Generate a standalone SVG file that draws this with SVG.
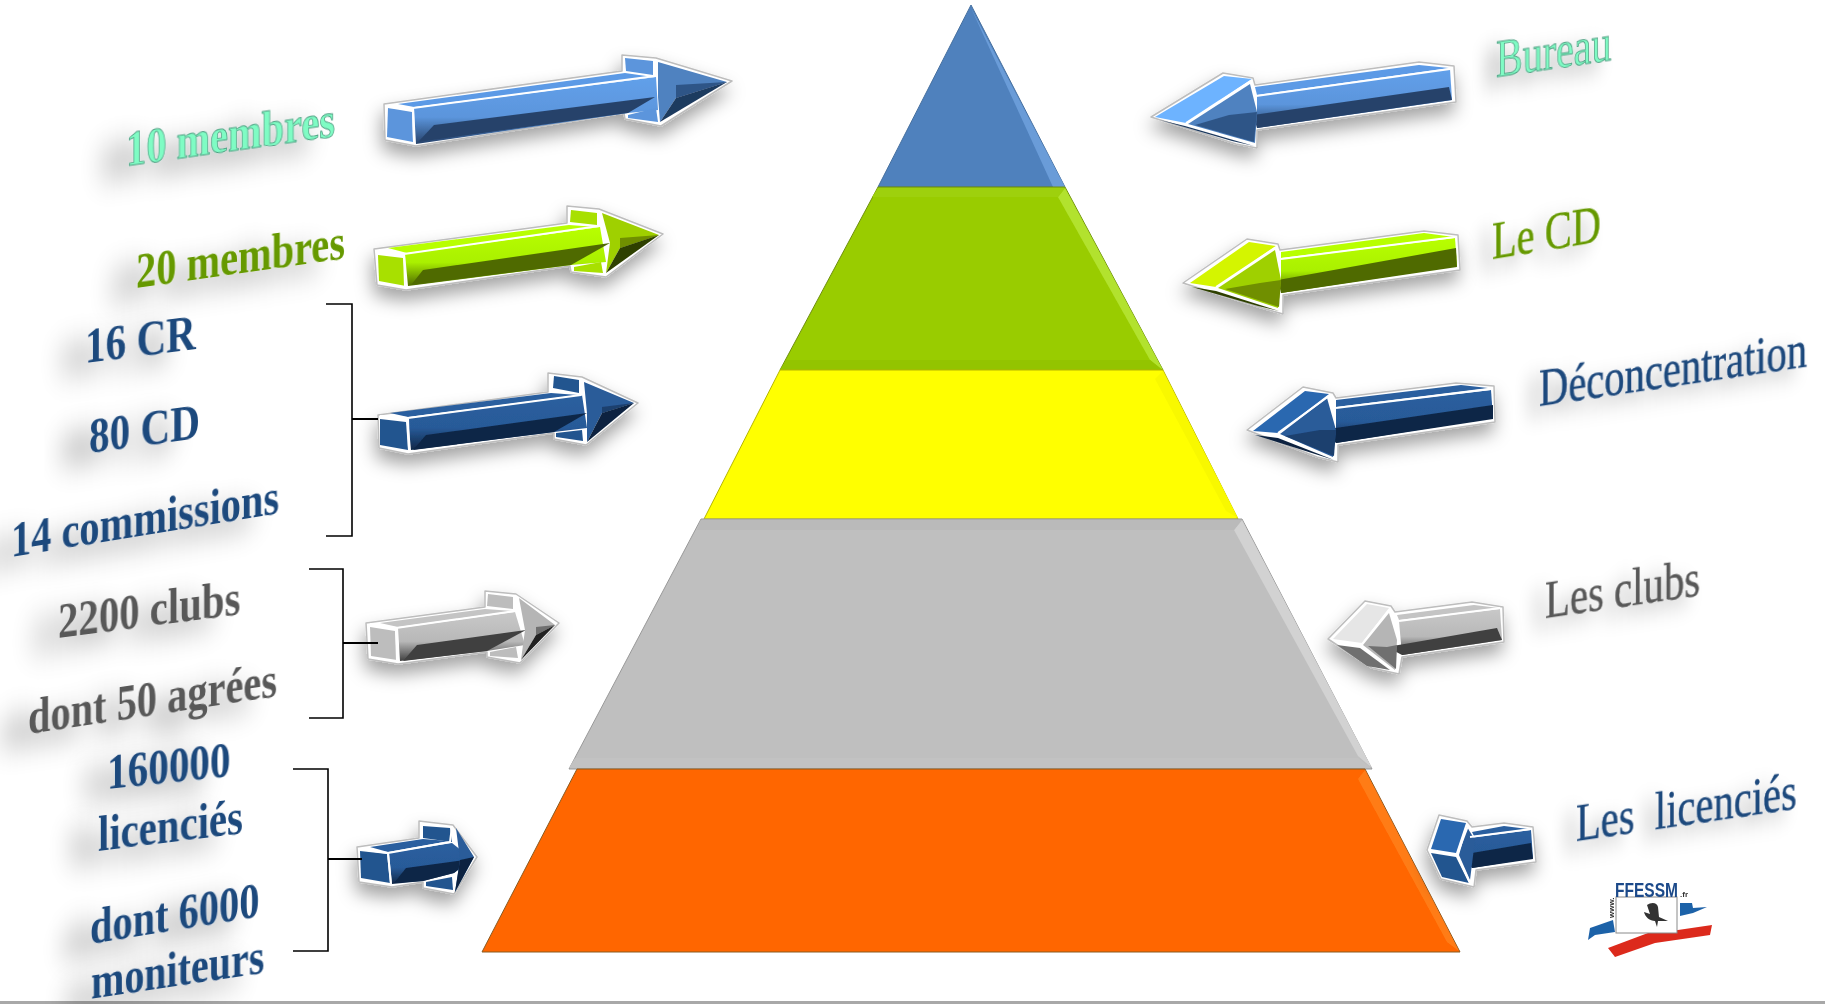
<svg xmlns="http://www.w3.org/2000/svg" width="1825" height="1004" viewBox="0 0 1825 1004">
<style>
.o{fill:#fff;stroke:#bdbdbd;stroke-width:1.5;stroke-linejoin:round}
.blue{--c:#5b95dc;--d:#27436b;--h:#4f82c0;--m:#2f5587;--k:#1f3a5f;--u:#6db3ff;--t:#5b9ae6}
.navy{--c:#23558f;--d:#0f2747;--h:#2a5b99;--m:#1c3f6e;--k:#0c2340;--u:#2a67b0;--t:#2a5f9f}
.green{--c:#a8e000;--d:#4f6b00;--h:#9fd000;--m:#6f8f00;--k:#2f4000;--u:#d4f500;--t:#b8ff00}
.gray{--c:#bdbdbd;--d:#404040;--h:#b5b5b5;--m:#707070;--k:#202020;--u:#e6e6e6;--t:#c4c4c4}
.blue .shaft{fill:url(#gBlue)}.navy .shaft{fill:url(#gNavy)}.green .shaft{fill:url(#gGreen)}.gray .shaft{fill:url(#gGray)}
.cap,.barb{fill:var(--c)}.top{fill:var(--t)}.low{fill:var(--d)}.head{fill:var(--h)}.mid{fill:var(--m)}.dark{fill:var(--k)}.up{fill:var(--u)}
.w{fill:none;stroke:#fff;stroke-width:2;stroke-linejoin:round}
.tl,.tr{font-family:"Liberation Serif","Times New Roman",serif;font-size:40px;white-space:pre}
.tl{font-weight:bold;filter:url(#sl)}
.tr{filter:url(#sr);stroke-width:.35}
.aqua{fill:#7ffcc4;stroke:#4f9c80;stroke-width:.7}
.lime{fill:#669900}
.tr.lime{stroke:#669900}
.ink{fill:#1f497d}
.tr.ink{stroke:#1f497d}
.slate{fill:#595959}
.tr.slate{stroke:#595959}
.br{fill:none;stroke:#000;stroke-width:1.6}
.tick{fill:none;stroke:#000;stroke-width:2}
.ar{filter:url(#sa)}
</style>
<defs>
<linearGradient id="gBlue" x1="0" y1="0" x2="0" y2="1"><stop offset="0" stop-color="#62a0ea"/><stop offset=".6" stop-color="#5b95dc"/><stop offset="1" stop-color="#27436b"/></linearGradient>
<linearGradient id="gNavy" x1="0" y1="0" x2="0" y2="1"><stop offset="0" stop-color="#2a5f9f"/><stop offset=".6" stop-color="#285a98"/><stop offset="1" stop-color="#0f2747"/></linearGradient>
<linearGradient id="gGreen" x1="0" y1="0" x2="0" y2="1"><stop offset="0" stop-color="#b8ff00"/><stop offset=".6" stop-color="#aaf000"/><stop offset="1" stop-color="#4f6b00"/></linearGradient>
<linearGradient id="gGray" x1="0" y1="0" x2="0" y2="1"><stop offset="0" stop-color="#c8c8c8"/><stop offset=".6" stop-color="#b8b8b8"/><stop offset="1" stop-color="#404040"/></linearGradient>
<filter id="soft" x="0" y="0" width="100%" height="100%" filterUnits="userSpaceOnUse"><feGaussianBlur stdDeviation=".55"/></filter>
<filter id="sa" x="-20%" y="-40%" width="140%" height="200%"><feDropShadow dx="-2" dy="10" stdDeviation="9" flood-color="#000" flood-opacity=".36"/></filter>
<filter id="sl" x="-40%" y="-140%" width="170%" height="380%"><feGaussianBlur in="SourceAlpha" stdDeviation="12"/><feOffset dx="-26" dy="8"/><feComponentTransfer><feFuncA type="linear" slope=".42"/></feComponentTransfer><feMerge><feMergeNode/><feMergeNode in="SourceGraphic"/></feMerge></filter>
<filter id="sr" x="-30%" y="-140%" width="150%" height="380%"><feGaussianBlur in="SourceAlpha" stdDeviation="8"/><feOffset dx="-12" dy="6"/><feComponentTransfer><feFuncA type="linear" slope=".34"/></feComponentTransfer><feMerge><feMergeNode/><feMergeNode in="SourceGraphic"/></feMerge></filter>
</defs>
<rect width="1825" height="1004" fill="#fff"/>
<g filter="url(#soft)">
<rect y="1001" width="1825" height="3" fill="#a8a8a8"/>

<g id="pyramid">
<g id="level-bureau">
<polygon points="971,5 1065,187 878,187" fill="#4f81bd" stroke="#47709f"/>
<polygon points="971,8 1065,187 1053,187" fill="#6a9cd8"/>
</g>
<g id="level-cd">
<polygon points="878,187 1065,187 1163,370 780,370" fill="#99cc00" stroke="#6f8f10"/>
<polygon points="1065,188 1163,370 1150,360 1058,197" fill="#b2e22e"/>
<polygon points="878,188 1065,188 1058,197 872,197" fill="#9ed008"/>
<polygon points="786,360 1150,360 1162,370 780,370" fill="#93c400"/>
</g>
<g id="level-yellow">
<polygon points="780,370 1163,370 1238,519 704,519" fill="#ff0" stroke="#b5b500"/>
<polygon points="1163,371 1238,518 1226,511 1155,379" fill="#f8f800"/>
</g>
<g id="level-clubs">
<polygon points="701,519 1242,519 1372,769 569,769" fill="#bfbfbf" stroke="#999"/>
<polygon points="1242,520 1372,768 1358,756 1234,530" fill="#d2d2d2"/>
<polygon points="701,520 1242,520 1234,530 697,530" fill="#bababa"/>
<polygon points="575,758 1358,758 1371,768 569,768" fill="#c2c2c2"/>
</g>
<g id="level-licencies">
<polygon points="577,769 1365,769 1460,952 482,952" fill="#f60" stroke="#8a5a20"/>
<polygon points="1365,770 1459,951 1447,942 1358,779" fill="#ff7c18"/>
</g>
</g>

<g id="arrow-10-membres" class="ar blue">
<polygon class="o" points="384,104 622,71 622,55 656,58 732,81 661,126 625,119 624,113 416,146 385,140"/>
<polygon class="cap" points="388,108 412,112 413,142 387,137"/>
<polygon class="top" points="398,104 625,73 653,77 414,107"/>
<polygon class="shaft" points="414,108 656,77 658,110 628,113 416,144"/>
<polygon class="low" points="434,125 655,97 628,113 418,142"/>
<polygon class="barb" points="625,58 653,61 653,75 626,71"/>
<polygon class="barb" points="628,115 656,108 658,122 628,118"/>
<polygon class="head" points="658,62 727,82 676,98 660,122 658,97"/>
<polygon class="mid" points="727,82 676,85 676,98"/>
<polygon class="dark" points="727,82 676,98 660,122"/>
<polyline class="w" points="414,142 413,108 655,76 655,59"/>
<polyline class="w" points="387,107 413,108"/>
</g>
<g id="arrow-20-membres" class="ar green">
<polygon class="o" points="374,249 567,223 567,206 599,209 663,234 606,277 571,272 570,266 406,290 377,285"/>
<polygon class="cap" points="378,255 403,258 406,286 379,281"/>
<polygon class="top" points="388,248 569,225 597,227 407,253"/>
<polygon class="shaft" points="405,254 600,227 606,262 571,265 408,286"/>
<polygon class="low" points="423,270 610,243 571,265 411,285"/>
<polygon class="barb" points="571,210 597,213 597,225 570,222"/>
<polygon class="barb" points="574,267 601,262 603,273 574,271"/>
<polygon class="head" points="602,213 659,235 620,248 606,273 610,243"/>
<polygon class="mid" points="659,235 620,238 620,248"/>
<polygon class="dark" points="659,235 620,248 606,273"/>
<polyline class="w" points="405,286 404,254 599,226 599,210"/>
<polyline class="w" points="378,253 404,254"/>
</g>
<g id="arrow-16-cr" class="ar navy">
<polygon class="o" points="378,415 548,392 548,373 582,377 638,403 586,445 554,439 554,433 408,454 379,448"/>
<polygon class="cap" points="380,419 406,422 408,450 380,445"/>
<polygon class="top" points="390,413 551,393 578,395 408,417"/>
<polygon class="shaft" points="408,418 582,395 587,428 554,432 411,450"/>
<polygon class="low" points="426,435 587,413 554,432 413,450"/>
<polygon class="barb" points="554,376 579,380 579,393 553,388"/>
<polygon class="barb" points="556,433 582,430 583,441 556,437"/>
<polygon class="head" points="584,382 634,403 602,413 587,442 587,413"/>
<polygon class="mid" points="634,403 602,407 602,413"/>
<polygon class="dark" points="634,403 602,413 587,442"/>
<polyline class="w" points="409,450 408,418 581,395 581,378"/>
<polyline class="w" points="380,416 408,418"/>
</g>
<g id="arrow-2200-clubs" class="ar gray">
<polygon class="o" points="366,623 485,607 485,591 516,594 559,623 520,663 487,657 487,652 398,664 368,659"/>
<polygon class="cap" points="370,627 395,631 397,660 371,656"/>
<polygon class="top" points="380,623 485,609 513,611 398,627"/>
<polygon class="shaft" points="398,628 515,612 525,645 487,651 400,661"/>
<polygon class="low" points="417,645 526,630 487,651 403,661"/>
<polygon class="barb" points="488,594 513,597 513,609 487,606"/>
<polygon class="barb" points="490,652 516,647 518,658 490,656"/>
<polygon class="head" points="519,598 555,625 536,635 521,660 525,630"/>
<polygon class="mid" points="555,625 536,627 536,635"/>
<polygon class="dark" points="555,625 536,635 521,660"/>
<polyline class="w" points="397,661 396,628 515,611 515,595"/>
<polyline class="w" points="370,624 396,628"/>
</g>
<g id="arrow-160000" class="ar navy">
<polygon class="o" points="357,847 419,838 419,821 453,825 477,857 454,894 423,888 423,882 392,887 359,882"/>
<polygon class="cap" points="360,851 387,854 390,883 361,878"/>
<polygon class="top" points="370,847 423,839 449,841 388,852"/>
<polygon class="shaft" points="389,853 452,843 472,859 454,873 423,881 392,884"/>
<polygon class="low" points="406,868 472,859 454,873 423,881 394,883"/>
<polygon class="barb" points="423,826 450,828 452,842 423,838"/>
<polygon class="barb" points="426,882 452,877 453,890 426,886"/>
<polygon class="head" points="456,828 474,857 455,892 460,860"/>
<polygon class="dark" points="474,857 460,860 455,892"/>
<polyline class="w" points="391,885 388,853 450,842 452,826"/>
<polyline class="w" points="360,849 388,853"/>
</g>

<g id="arrow-bureau" class="ar blue">
<polygon class="o" points="1151,117 1223,73 1253,78 1255,85 1419,62 1454,66 1456,102 1257,130 1257,148 1236,144"/>
<polygon class="shaft" points="1257,96 1450,69 1452,100 1257,128"/>
<polygon class="top" points="1255,87 1419,65 1449,68 1257,95"/>
<polygon class="low" points="1253,115 1449,87 1452,100 1257,128"/>
<polygon class="up" points="1155,117 1224,76 1252,79 1186,123"/>
<polygon class="head" points="1188,124 1250,84 1257,112 1255,143"/>
<polygon class="mid" points="1195,125 1229,115 1257,112 1254,142"/>
<polygon class="dark" points="1160,120 1185,126 1254,146 1232,141"/>
<polyline class="w" points="1186,123 1252,80"/>
<polyline class="w" points="1256,96 1450,69"/>
</g>
<g id="arrow-le-cd" class="ar green">
<polygon class="o" points="1183,283 1247,239 1278,244 1280,250 1424,231 1458,235 1460,270 1283,295 1283,314 1262,308"/>
<polygon class="shaft" points="1281,259 1455,238 1457,266 1281,293"/>
<polygon class="top" points="1281,252 1424,233 1454,237 1281,258"/>
<polygon class="low" points="1278,280 1456,248 1457,267 1281,293"/>
<polygon class="up" points="1190,283 1249,242 1276,246 1216,287"/>
<polygon class="head" points="1218,288 1275,250 1281,280 1278,308"/>
<polygon class="mid" points="1225,289 1260,283 1281,280 1279,307"/>
<polygon class="dark" points="1192,287 1216,291 1279,311 1258,306"/>
<polyline class="w" points="1216,287 1276,247"/>
<polyline class="w" points="1281,259 1455,237"/>
</g>
<g id="arrow-deconcentration" class="ar navy">
<polygon class="o" points="1247,430 1303,387 1333,393 1336,398 1456,383 1494,386 1495,422 1338,445 1338,462 1317,457"/>
<polygon class="shaft" points="1336,408 1491,390 1493,418 1336,443"/>
<polygon class="top" points="1336,400 1461,385 1488,388 1336,407"/>
<polygon class="low" points="1322,430 1493,405 1493,419 1336,443"/>
<polygon class="up" points="1253,431 1305,391 1329,394 1278,433"/>
<polygon class="head" points="1280,434 1327,398 1336,430 1333,457"/>
<polygon class="mid" points="1285,436 1320,430 1336,430 1334,456"/>
<polygon class="dark" points="1255,435 1278,438 1334,460 1315,454"/>
<polyline class="w" points="1278,433 1329,396"/>
<polyline class="w" points="1336,408 1491,389"/>
</g>
<g id="arrow-les-clubs" class="ar gray">
<polygon class="o" points="1328,639 1365,601 1391,606 1395,612 1472,602 1503,607 1504,642 1402,657 1399,674 1372,668"/>
<polygon class="shaft" points="1399,621 1500,609 1502,640 1402,655"/>
<polygon class="top" points="1397,615 1474,605 1499,608 1399,620"/>
<polygon class="low" points="1387,647 1497,628 1502,640 1402,655"/>
<polygon class="up" points="1333,639 1367,604 1389,608 1362,643"/>
<polygon class="head" points="1363,645 1389,613 1397,640 1395,670"/>
<polygon class="mid" points="1368,646 1387,647 1397,645 1396,669"/>
<polygon class="mid" points="1337,645 1360,648 1390,670 1367,666"/>
<polyline class="w" points="1362,644 1390,609"/>
<polyline class="w" points="1399,621 1500,608"/>
</g>
<g id="arrow-les-licencies" class="ar navy">
<polygon class="o" points="1427,850 1439,815 1467,821 1472,827 1504,823 1533,827 1536,862 1476,870 1474,887 1441,879"/>
<polygon class="shaft" points="1469,838 1531,830 1533,858 1472,868"/>
<polygon class="top" points="1472,832 1504,826 1528,829 1474,836"/>
<polygon class="low" points="1460,855 1531,843 1533,859 1472,868"/>
<polygon class="up" points="1431,849 1441,819 1466,823 1456,853"/>
<polygon class="cap" points="1431,853 1456,857 1469,883 1442,877"/>
<polygon class="head" points="1459,855 1467,827 1475,840 1470,880"/>
<polyline class="w" points="1431,851 1457,855 1468,826"/>
<polyline class="w" points="1457,855 1470,883"/>
<polyline class="w" points="1470,837 1531,829"/>
</g>

<g id="connectors">
<polyline class="br" points="326,304 352,304 352,536 326,536"/>
<line class="tick" x1="352" y1="419" x2="378" y2="419"/>
<polyline class="br" points="309,569 343,569 343,718 309,718"/>
<line class="tick" x1="343" y1="643" x2="378" y2="643"/>
<polyline class="br" points="293,769 328,769 328,951 293,951"/>
<line class="tick" x1="328" y1="859" x2="362" y2="859"/>
</g>

<g id="label-10-membres"><text class="tl aqua" transform="matrix(1.01,-.1435,0,1.25,126,166)">10 membres</text></g>
<g id="label-20-membres"><text class="tl lime" transform="matrix(1.01,-.143,0,1.25,136,288)">20 membres</text></g>
<g id="label-16-cr"><text class="tl ink" transform="matrix(1.03,-.13,0,1.25,85,363)">16 CR</text></g>
<g id="label-80-cd"><text class="tl ink" transform="matrix(1.03,-.14,0,1.25,89,453)">80 CD</text></g>
<g id="label-14-commissions"><text class="tl ink" transform="matrix(1.01,-.165,0,1.25,11,557)">14 commissions</text></g>
<g id="label-2200-clubs"><text class="tl slate" transform="matrix(1.02,-.133,0,1.25,58,638)">2200 clubs</text></g>
<g id="label-dont-50"><text class="tl slate" transform="matrix(1.01,-.153,0,1.25,28,734)">dont 50 agrées</text></g>
<g id="label-160000"><text class="tl ink" transform="matrix(1.03,-.108,0,1.25,107,789)">160000</text></g>
<g id="label-licencies-l"><text class="tl ink" transform="matrix(1.02,-.125,0,1.25,98,851)">licenciés</text></g>
<g id="label-dont-6000"><text class="tl ink" transform="matrix(1.01,-.165,0,1.25,90,944)">dont 6000</text></g>
<g id="label-moniteurs"><text class="tl ink" transform="matrix(1,-.15,0,1.25,91,999)">moniteurs</text></g>

<g id="label-bureau"><text class="tr aqua" transform="matrix(1,-.147,0,1.3,1496,77)">Bureau</text></g>
<g id="label-le-cd"><text class="tr lime" transform="matrix(1.01,-.165,0,1.3,1492,259)">Le CD</text></g>
<g id="label-deconcentration"><text class="tr ink" transform="matrix(1.015,-.15,0,1.3,1539,406)">Déconcentration</text></g>
<g id="label-les-clubs"><text class="tr slate" transform="matrix(1.02,-.15,0,1.3,1545,618)">Les clubs</text></g>
<g id="label-les-licencies"><text class="tr ink" transform="matrix(1.015,-.15,0,1.3,1576,841)">Les  licenciés</text></g>

<g id="logo">
<path d="M1588,940 L1590,928 L1613,920 L1615,932 L1595,935 Z" fill="#1f62a8"/>
<path d="M1680,903 L1692,903 L1693,908 L1707,907 L1693,913 L1680,916 Z" fill="#1f62a8"/>
<path d="M1608,948 L1648,933 L1678,930 L1712,925 L1710,935 L1655,943 L1615,957 Z" fill="#dc2a1c"/>
<rect x="1616" y="897" width="61" height="36" fill="#fff" stroke="#8a8a8a"/>
<path d="M1647,905 C1651,902 1657,902 1658,907 L1659,917 L1668,921 L1658,921 L1657,927 L1655,921 C1650,921 1645,917 1644,912 L1650,914 Z" fill="#333"/>
<text transform="translate(1615,897) scale(.74,1)" font-family="Liberation Sans,Arial,sans-serif" font-weight="bold" font-size="21" fill="#1b4a8a">FFESSM</text>
<text x="1680" y="897" font-family="Liberation Sans,Arial,sans-serif" font-weight="bold" font-size="8" fill="#333">.fr</text>
<text transform="translate(1614,918) rotate(-90)" font-family="Liberation Sans,Arial,sans-serif" font-weight="bold" font-size="8" fill="#333">www.</text>
</g>
</g>
</svg>
